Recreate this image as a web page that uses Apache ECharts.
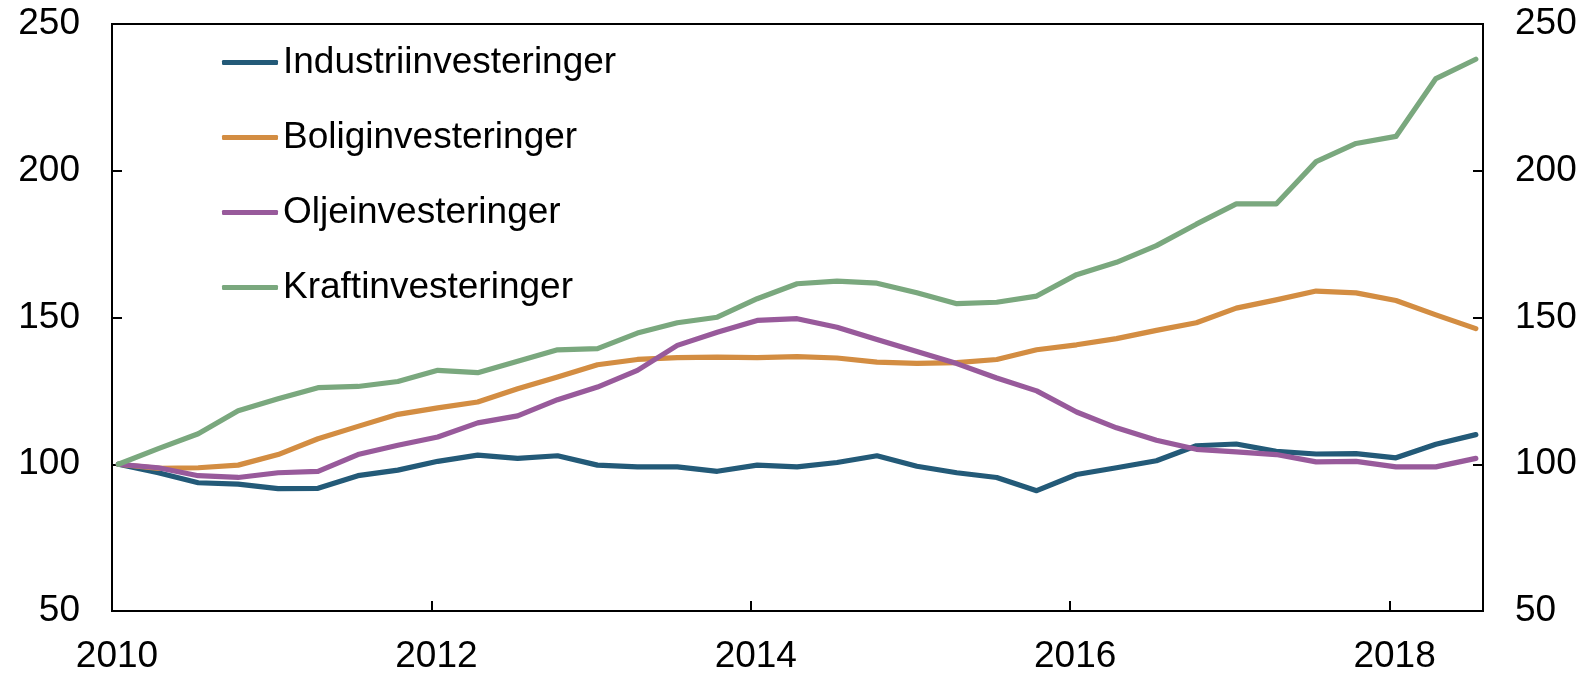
<!DOCTYPE html>
<html>
<head>
<meta charset="utf-8">
<script src="https://cdn.jsdelivr.net/npm/echarts@6/dist/echarts.min.js"></script>
<style>
  html, body { margin: 0; padding: 0; background: #fff; }
  #chart { width: 1591px; height: 675px; }
</style>
</head>
<body>
<div id="chart"></div>
<script>
// quarters, 2010K1 .. 2018K3
var quarters = [
  '2010K1','2010K2','2010K3','2010K4','2011K1','2011K2','2011K3','2011K4',
  '2012K1','2012K2','2012K3','2012K4','2013K1','2013K2','2013K3','2013K4',
  '2014K1','2014K2','2014K3','2014K4','2015K1','2015K2','2015K3','2015K4',
  '2016K1','2016K2','2016K3','2016K4','2017K1','2017K2','2017K3','2017K4',
  '2018K1','2018K2','2018K3'
];

var industri = [100, 97.1, 93.7, 93.2, 91.7, 91.8, 96.1, 98.0, 101.0, 103.1, 102.0, 102.9,
  99.7, 99.1, 99.1, 97.6, 99.7, 99.1, 100.6, 102.9, 99.3, 97.1, 95.5, 91.0,
  96.5, 98.8, 101.2, 106.3, 106.9, 104.4, 103.5, 103.6, 102.2, 106.8, 110.1];

var bolig = [100, 98.6, 98.8, 99.7, 103.3, 108.7, 112.9, 117.0, 119.2, 121.2, 125.7, 129.7,
  133.9, 135.7, 136.3, 136.5, 136.3, 136.7, 136.2, 134.8, 134.4, 134.6, 135.7, 139.0,
  140.7, 142.8, 145.6, 148.2, 153.2, 156.0, 159.0, 158.4, 155.8, 150.9, 146.2];

var olje = [100, 98.8, 96.1, 95.5, 97.1, 97.6, 103.3, 106.5, 109.3, 114.1, 116.5, 122.0,
  126.3, 132.0, 140.5, 145.0, 149.0, 149.6, 146.7, 142.5, 138.4, 134.3, 129.4, 125.0,
  117.8, 112.4, 108.2, 105.1, 104.2, 103.3, 100.8, 101.0, 99.1, 99.1, 102.0];

var kraft = [100, 105.3, 110.4, 118.2, 122.3, 126.1, 126.5, 128.2, 132.0, 131.2, 135.1, 139.0,
  139.4, 144.7, 148.2, 150.1, 156.4, 161.5, 162.4, 161.7, 158.4, 154.7, 155.2, 157.3,
  164.6, 168.8, 174.5, 181.8, 188.7, 188.7, 203.1, 209.3, 211.7, 231.4, 238.0];

var seriesNames = ['Industriinvesteringer', 'Boliginvesteringer', 'Oljeinvesteringer', 'Kraftinvesteringer'];
var colors = ['#235a78', '#d38d42', '#985a9b', '#7aa87e'];
var yTicks = [50, 100, 150, 200, 250];

// place each quarter at the middle of its first month
function qx(q) {
  var y = parseInt(q.slice(0, 4), 10);
  var k = parseInt(q.slice(5), 10);
  return y + (k - 1) / 4 + 0.04;
}

function pairs(vals) {
  return vals.map(function (v, i) { return [qx(quarters[i]), v]; });
}

var font = 'Liberation Sans, Arial, sans-serif';
var fs = 37;
var chart = echarts.init(document.getElementById('chart'));

var yAxisBase = {
  type: 'value',
  min: yTicks[0],
  max: yTicks[yTicks.length - 1],
  interval: 50,
  splitLine: { show: false },
  axisLine: { show: true, lineStyle: { color: '#000', width: 2 } },
  axisTick: { show: true, inside: true, length: 10, lineStyle: { color: '#000', width: 2 } },
  axisLabel: { color: '#000', fontSize: fs, fontFamily: font, margin: 32 }
};

chart.setOption({
  animation: false,
  backgroundColor: '#fff',
  color: colors,
  grid: {
    left: 112, right: 108, top: 24, bottom: 62,
    show: true, borderColor: '#000', borderWidth: 2
  },
  legend: {
    orient: 'vertical',
    left: 222,
    top: 44,
    padding: 0,
    itemGap: 38,
    itemWidth: 56,
    itemHeight: 5,
    icon: 'roundRect',
    data: seriesNames,
    textStyle: { color: '#000', fontSize: fs, fontFamily: font, lineHeight: 36 }
  },
  xAxis: {
    type: 'value',
    min: 2010,
    max: 2018.585,
    interval: 2,
    splitLine: { show: false },
    axisLine: { show: true, onZero: false, lineStyle: { color: '#000', width: 2 } },
    axisTick: { show: true, inside: true, length: 10, lineStyle: { color: '#000', width: 2 } },
    axisLabel: {
      color: '#000', fontSize: fs, fontFamily: font, margin: 27,
      showMaxLabel: false,
      padding: [0, 0, 0, 10],
      formatter: function (v) { return String(Math.round(v)); }
    }
  },
  yAxis: [
    Object.assign({}, yAxisBase, { position: 'left' }),
    Object.assign({}, yAxisBase, { position: 'right' })
  ],
  series: [industri, bolig, olje, kraft].map(function (vals, i) {
    return {
      name: seriesNames[i],
      type: 'line',
      yAxisIndex: 0,
      data: pairs(vals),
      showSymbol: false,
      symbol: 'none',
      lineStyle: { width: 5.2, color: colors[i], cap: 'round', join: 'round' },
      itemStyle: { color: colors[i] }
    };
  })
});
</script>
</body>
</html>
